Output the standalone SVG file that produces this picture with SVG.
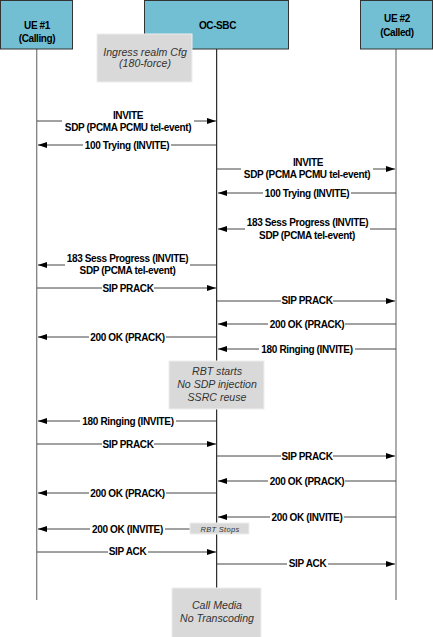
<svg xmlns="http://www.w3.org/2000/svg" width="433" height="637" viewBox="0 0 433 637">
<defs>
<marker id="ah" markerWidth="10" markerHeight="6" refX="9" refY="3" orient="auto" markerUnits="userSpaceOnUse">
<path d="M0,0 L9,3 L0,6 Z" fill="#000"/>
</marker>
<style>
.hdr{fill:#72BFD3;stroke:#333;stroke-width:1}
.ht{font-family:"Liberation Sans",Arial,sans-serif;font-size:10px;font-weight:bold;fill:#000;text-anchor:middle;letter-spacing:-0.4px}
.note{fill:#D9D9D9;stroke:#EEEEEE;stroke-width:1}
.nt{font-family:"Liberation Sans",Arial,sans-serif;font-size:10.6px;font-style:italic;fill:#333;text-anchor:middle}
.msg{stroke:#444;stroke-width:1;fill:none;marker-end:url(#ah)}
.lbl{font-family:"Liberation Sans",Arial,sans-serif;font-size:10px;font-weight:bold;fill:#000;text-anchor:middle;letter-spacing:-0.35px}
.bg{fill:#fff}
.ll{stroke:#808080;stroke-width:1.3}
</style>
</defs>
<rect width="433" height="637" fill="#fff"/>

<g id="lifelines">
<line class="ll" x1="36.7" y1="49" x2="36.7" y2="600"/>
<line x1="216.7" y1="49" x2="216.7" y2="600" stroke="#000" stroke-width="1"/>
<line class="ll" x1="396" y1="49" x2="396" y2="600"/>
</g>

<g id="ue1">
<rect class="hdr" x="0.5" y="0.5" width="72" height="48.5"/>
<text class="ht" x="37" y="28.5">UE #1</text>
<text class="ht" x="37" y="41.5">(Calling)</text>
</g>
<g id="ocsbc">
<rect class="hdr" x="144.5" y="0.5" width="144" height="48.5"/>
<text class="ht" x="217.5" y="28.5">OC-SBC</text>
</g>
<g id="ue2">
<rect class="hdr" x="360.5" y="0.5" width="72" height="48.5"/>
<text class="ht" x="397" y="21.5">UE #2</text>
<text class="ht" x="397" y="35.5">(Called)</text>
</g>

<g id="ingress">
<rect class="note" x="97" y="34" width="95" height="48"/>
<text class="nt" x="145" y="55.5">Ingress realm Cfg</text>
<text class="nt" x="145" y="67">(180-force)</text>
</g>

<g id="connectors">
<line class="msg" x1="37" y1="121" x2="216" y2="121"/>
<line class="msg" x1="216" y1="145" x2="38" y2="145"/>
<line class="msg" x1="217" y1="169" x2="395" y2="169"/>
<line class="msg" x1="396" y1="193" x2="218" y2="193"/>
<line class="msg" x1="396" y1="229" x2="218" y2="229"/>
<line class="msg" x1="216" y1="265" x2="38" y2="265"/>
<line class="msg" x1="37" y1="288" x2="216" y2="288"/>
<line class="msg" x1="217" y1="301" x2="395" y2="301"/>
<line class="msg" x1="396" y1="324" x2="218" y2="324"/>
<line class="msg" x1="216" y1="337" x2="38" y2="337"/>
<line class="msg" x1="396" y1="349" x2="218" y2="349"/>
<line class="msg" x1="216" y1="421" x2="38" y2="421"/>
<line class="msg" x1="37" y1="444" x2="216" y2="444"/>
<line class="msg" x1="217" y1="456" x2="395" y2="456"/>
<line class="msg" x1="396" y1="481" x2="218" y2="481"/>
<line class="msg" x1="216" y1="493" x2="38" y2="493"/>
<line class="msg" x1="396" y1="517" x2="218" y2="517"/>
<line class="msg" x1="216" y1="529" x2="38" y2="529"/>
<line class="msg" x1="37" y1="552" x2="216" y2="552"/>
<line class="msg" x1="217" y1="564" x2="395" y2="564"/>

<rect class="bg" x="62" y="110" width="132" height="22"/>
<text class="lbl" x="128" y="118.5">INVITE</text>
<text class="lbl" x="128" y="130.5">SDP (PCMA PCMU tel-event)</text>

<rect class="bg" x="83" y="141" width="88" height="8"/>
<text class="lbl" x="127" y="148.5">100 Trying (INVITE)</text>

<rect class="bg" x="241" y="158" width="132" height="22"/>
<text class="lbl" x="308" y="165.5">INVITE</text>
<text class="lbl" x="307" y="178">SDP (PCMA PCMU tel-event)</text>

<rect class="bg" x="263" y="189" width="88" height="8"/>
<text class="lbl" x="307" y="196.5">100 Trying (INVITE)</text>

<rect class="bg" x="245" y="217" width="125" height="22"/>
<text class="lbl" x="307.5" y="225.5">183 Sess Progress (INVITE)</text>
<text class="lbl" x="307" y="238.5">SDP (PCMA tel-event)</text>

<rect class="bg" x="65" y="254" width="125" height="22"/>
<text class="lbl" x="127.5" y="262">183 Sess Progress (INVITE)</text>
<text class="lbl" x="127.5" y="274">SDP (PCMA tel-event)</text>

<rect class="bg" x="102" y="284" width="52" height="8"/>
<text class="lbl" x="128" y="291.5">SIP PRACK</text>
<rect class="bg" x="281" y="297" width="52" height="8"/>
<text class="lbl" x="307" y="304">SIP PRACK</text>

<rect class="bg" x="268" y="320" width="77" height="8"/>
<text class="lbl" x="307" y="327.5">200 OK (PRACK)</text>
<rect class="bg" x="89" y="333" width="77" height="8"/>
<text class="lbl" x="127.5" y="340.5">200 OK (PRACK)</text>

<rect class="bg" x="259" y="345" width="96" height="8"/>
<text class="lbl" x="307" y="352.5">180 Ringing (INVITE)</text>

<rect class="bg" x="80" y="417" width="96" height="8"/>
<text class="lbl" x="128" y="424.5">180 Ringing (INVITE)</text>

<rect class="bg" x="102" y="440" width="52" height="8"/>
<text class="lbl" x="128" y="447.5">SIP PRACK</text>
<rect class="bg" x="281" y="452" width="52" height="8"/>
<text class="lbl" x="307" y="459.5">SIP PRACK</text>

<rect class="bg" x="268" y="477" width="77" height="8"/>
<text class="lbl" x="307" y="484.5">200 OK (PRACK)</text>
<rect class="bg" x="89" y="489" width="77" height="8"/>
<text class="lbl" x="127.5" y="496.5">200 OK (PRACK)</text>

<rect class="bg" x="270" y="513" width="74" height="8"/>
<text class="lbl" x="307" y="520.5">200 OK (INVITE)</text>
<rect class="bg" x="90" y="525" width="75" height="8"/>
<text class="lbl" x="127.5" y="532.5">200 OK (INVITE)</text>

<rect class="bg" x="108" y="548" width="40" height="8"/>
<text class="lbl" x="127.5" y="555">SIP ACK</text>
<rect class="bg" x="287" y="560" width="41" height="8"/>
<text class="lbl" x="307.5" y="567">SIP ACK</text>
</g>

<g id="rbt">
<rect class="note" x="169" y="361" width="95" height="48"/>
<text class="nt" x="217" y="374.5">RBT starts</text>
<text class="nt" x="217" y="387.5">No SDP injection</text>
<text class="nt" x="217" y="400.5">SSRC reuse</text>
</g>

<g id="rbtstops">
<rect class="note" x="190" y="523" width="59" height="11"/>
<text class="nt" x="220" y="531.5" style="font-size:7.5px;letter-spacing:0.3px">RBT Stops</text>
</g>

<g id="callmedia">
<rect class="note" x="172" y="588" width="89" height="50"/>
<text class="nt" x="217" y="608.5">Call Media</text>
<text class="nt" x="217" y="621.5">No Transcoding</text>
</g>
</svg>
